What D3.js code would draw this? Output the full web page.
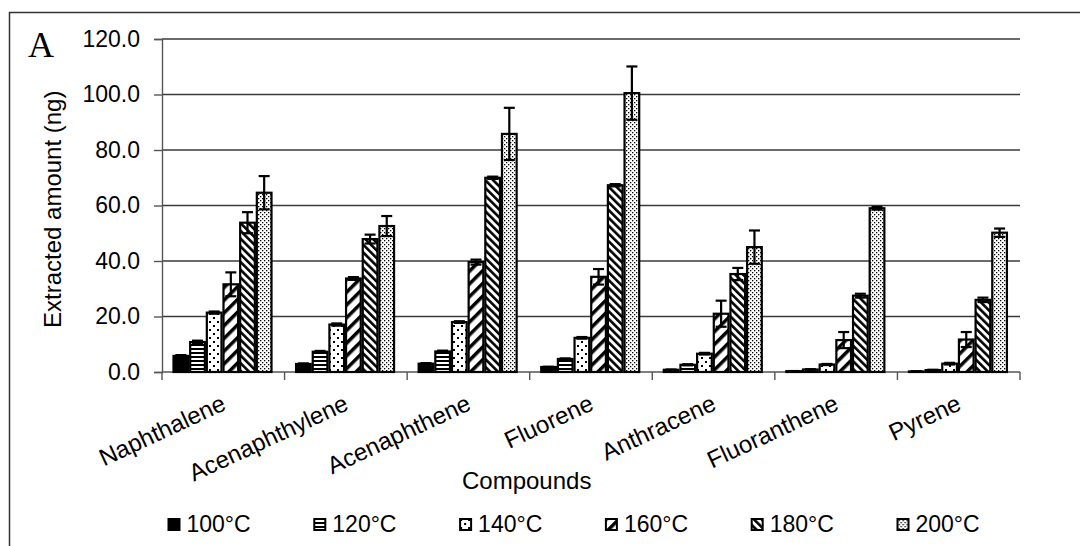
<!DOCTYPE html>
<html lang="en">
<head>
<meta charset="UTF-8">
<title>Extracted amount by compound and temperature</title>
<script src="https://cdnjs.cloudflare.com/ajax/libs/d3/7.8.5/d3.min.js"></script>
<style>
  body { margin: 0; background: #fff; }
  svg text { font-family: "Liberation Sans", Arial, sans-serif; fill: #000; }
</style>
</head>
<body>
<div id="chart"></div>
<script>
// data
const compounds = ["Naphthalene", "Acenaphthylene", "Acenaphthene", "Fluorene", "Anthracene", "Fluoranthene", "Pyrene"];
const temps = ["100°C", "120°C", "140°C", "160°C", "180°C", "200°C"];
const yTicks = [0, 20, 40, 60, 80, 100, 120];

const v100 = [5.8, 2.9, 3.0, 1.8, 0.8, 0.3, 0.2];
const v120 = [10.8, 7.3, 7.4, 4.7, 2.6, 0.9, 0.7];
const v140 = [21.4, 17.1, 18.0, 12.3, 6.6, 2.7, 3.0];
const v160 = [31.6, 33.7, 39.6, 34.3, 21.0, 11.5, 11.7];
const v180 = [53.8, 47.9, 70.0, 67.3, 35.3, 27.5, 26.0];
const v200 = [64.6, 52.6, 85.8, 100.5, 45.0, 59.0, 50.2];

const e100 = [0.3, 0.2, 0.2, 0.1, 0.1, 0.05, 0.05];
const e120 = [0.5, 0.3, 0.3, 0.2, 0.2, 0.1, 0.1];
const e140 = [0.4, 0.4, 0.3, 0.3, 0.3, 0.2, 0.3];
const e160 = [4.3, 0.5, 0.9, 2.8, 4.7, 2.9, 2.7];
const e180 = [3.8, 1.6, 0.4, 0.4, 2.2, 0.7, 0.8];
const e200 = [6.0, 3.6, 9.4, 9.6, 6.0, 0.5, 1.5];

const values = [v100, v120, v140, v160, v180, v200];
const errors = [e100, e120, e140, e160, e180, e200];

const W = 1080, H = 546;
const plot = {left: 162, right: 1020, top: 39, bottom: 372};

const svg = d3.select("#chart").append("svg")
    .attr("width", W).attr("height", H);

// fill patterns, one per temperature
const defs = svg.append("defs");
const pats = ["p100", "p120", "p140", "p160", "p180", "p200"];

defs.append("pattern").attr("id", "p100").attr("patternUnits", "userSpaceOnUse")
    .attr("width", 4).attr("height", 4)
  .append("rect").attr("width", 4).attr("height", 4).attr("fill", "#000");

let p = defs.append("pattern").attr("id", "p120").attr("patternUnits", "userSpaceOnUse")
    .attr("width", 4).attr("height", 4);
p.append("rect").attr("width", 4).attr("height", 4).attr("fill", "#fff");
p.append("rect").attr("width", 4).attr("height", 2).attr("fill", "#000");

p = defs.append("pattern").attr("id", "p140").attr("patternUnits", "userSpaceOnUse")
    .attr("width", 8).attr("height", 8);
p.append("rect").attr("width", 8).attr("height", 8).attr("fill", "#fff");
p.append("rect").attr("x", 1).attr("y", 1).attr("width", 2).attr("height", 2).attr("fill", "#000");
p.append("rect").attr("x", 5).attr("y", 5).attr("width", 2).attr("height", 2).attr("fill", "#000");

p = defs.append("pattern").attr("id", "p160").attr("patternUnits", "userSpaceOnUse")
    .attr("width", 9).attr("height", 9).attr("patternTransform", "rotate(45)");
p.append("rect").attr("width", 9).attr("height", 9).attr("fill", "#fff");
p.append("rect").attr("width", 3.5).attr("height", 9).attr("fill", "#000");

p = defs.append("pattern").attr("id", "p180").attr("patternUnits", "userSpaceOnUse")
    .attr("width", 5.5).attr("height", 5.5).attr("patternTransform", "rotate(-45)");
p.append("rect").attr("width", 5.5).attr("height", 5.5).attr("fill", "#fff");
p.append("rect").attr("width", 2.6).attr("height", 5.5).attr("fill", "#000");

p = defs.append("pattern").attr("id", "p200").attr("patternUnits", "userSpaceOnUse")
    .attr("width", 4).attr("height", 4);
p.append("rect").attr("width", 4).attr("height", 4).attr("fill", "#fff");
p.append("rect").attr("x", 0).attr("y", 0).attr("width", 1.3).attr("height", 1.3).attr("fill", "#000");
p.append("rect").attr("x", 2).attr("y", 2).attr("width", 1.3).attr("height", 1.3).attr("fill", "#000");

// outer frame (only top and left edges show)
svg.append("rect")
    .attr("x", 9.5).attr("y", 12.5)
    .attr("width", 1200).attr("height", 700)
    .attr("fill", "none").attr("stroke", "#333").attr("stroke-width", 1.5);

svg.append("text")
    .attr("x", 28).attr("y", 57)
    .style("font-family", "'Liberation Serif', 'Times New Roman', serif")
    .style("font-size", "36px")
    .text("A");

// scales
const x0 = d3.scaleBand().domain(compounds).range([plot.left, plot.right]).padding(0);
const x1 = d3.scaleBand().domain(temps).range([10.5, 110.5]).padding(0);
const y = d3.scaleLinear().domain([0, 120]).range([plot.bottom, plot.top]);

// gridlines
svg.append("g").selectAll("line")
    .data(yTicks.filter(d => d > 0))
    .join("line")
    .attr("x1", plot.left).attr("x2", plot.right)
    .attr("y1", d => y(d)).attr("y2", d => y(d))
    .attr("stroke", "#3a3a3a").attr("stroke-width", 1.4);

// y axis
const yAxis = svg.append("g")
    .attr("transform", `translate(${plot.left},0)`)
    .call(d3.axisLeft(y).tickValues(yTicks).tickFormat(d3.format(".1f")).tickSize(8).tickPadding(14));
yAxis.select(".domain").attr("stroke", "#555").attr("stroke-width", 1.4);
yAxis.selectAll(".tick line").attr("stroke", "#555").attr("stroke-width", 1.4);
yAxis.selectAll(".tick text").style("font-size", "23px").attr("font-family", null);

// x axis: ticks on category boundaries
const xAxis = svg.append("g");
xAxis.append("line")
    .attr("x1", plot.left).attr("x2", plot.right)
    .attr("y1", plot.bottom).attr("y2", plot.bottom)
    .attr("stroke", "#555").attr("stroke-width", 1.4);
xAxis.selectAll(".bt")
    .data(compounds.map(c => x0(c)).concat([plot.right]))
    .join("line").attr("class", "bt")
    .attr("x1", d => d).attr("x2", d => d)
    .attr("y1", plot.bottom).attr("y2", plot.bottom + 8)
    .attr("stroke", "#555").attr("stroke-width", 1.4);
xAxis.selectAll(".cl")
    .data(compounds)
    .join("text").attr("class", "cl")
    .attr("text-anchor", "end")
    .attr("transform", d => `translate(${x0(d) + x0.bandwidth() / 2 + 4},${plot.bottom + 37}) rotate(-25)`)
    .style("font-size", "24px")
    .text(d => d);

// bars
const rows = [];
temps.forEach((t, i) => compounds.forEach((c, j) => {
    rows.push({temp: t, comp: c, v: values[i][j], e: errors[i][j], pat: pats[i]});
}));

svg.append("g").selectAll("rect")
    .data(rows)
    .join("rect")
    .attr("x", d => x0(d.comp) + x1(d.temp) + 1)
    .attr("y", d => y(d.v))
    .attr("width", x1.bandwidth() - 2)
    .attr("height", d => y(0) - y(d.v))
    .attr("fill", d => `url(#${d.pat})`)
    .attr("stroke", "#000").attr("stroke-width", 2.2);

// error bars
const eb = svg.append("g").attr("stroke", "#000").attr("stroke-width", 2.2);
const cx = d => x0(d.comp) + x1(d.temp) + x1.bandwidth() / 2;
eb.selectAll(".stem").data(rows).join("line").attr("class", "stem")
    .attr("x1", cx).attr("x2", cx)
    .attr("y1", d => y(d.v + d.e)).attr("y2", d => y(Math.max(0, d.v - d.e)));
eb.selectAll(".cap").data(rows).join("line").attr("class", "cap")
    .attr("x1", d => cx(d) - 5.5).attr("x2", d => cx(d) + 5.5)
    .attr("y1", d => y(d.v + d.e)).attr("y2", d => y(d.v + d.e));
eb.selectAll(".capb").data(rows).join("line").attr("class", "capb")
    .attr("x1", d => cx(d) - 5.5).attr("x2", d => cx(d) + 5.5)
    .attr("y1", d => y(Math.max(0, d.v - d.e))).attr("y2", d => y(Math.max(0, d.v - d.e)));

// axis titles
svg.append("text")
    .attr("text-anchor", "start")
    .attr("transform", "translate(61,328) rotate(-90)")
    .style("font-size", "24px")
    .text("Extracted amount (ng)");

svg.append("text")
    .attr("x", 462).attr("y", 489)
    .style("font-size", "24px")
    .text("Compounds");

// legend
const lg = svg.append("g").selectAll("g")
    .data(temps)
    .join("g")
    .attr("transform", (d, i) => `translate(${167.5 + i * 145.8},518)`);
lg.append("rect")
    .attr("x", 1).attr("y", 1).attr("width", 11).attr("height", 11)
    .attr("fill", (d, i) => `url(#${pats[i]})`)
    .attr("stroke", "#000").attr("stroke-width", 2);
lg.append("text")
    .attr("x", 19).attr("y", 14)
    .style("font-size", "23px")
    .text(d => d);
</script>
</body>
</html>
